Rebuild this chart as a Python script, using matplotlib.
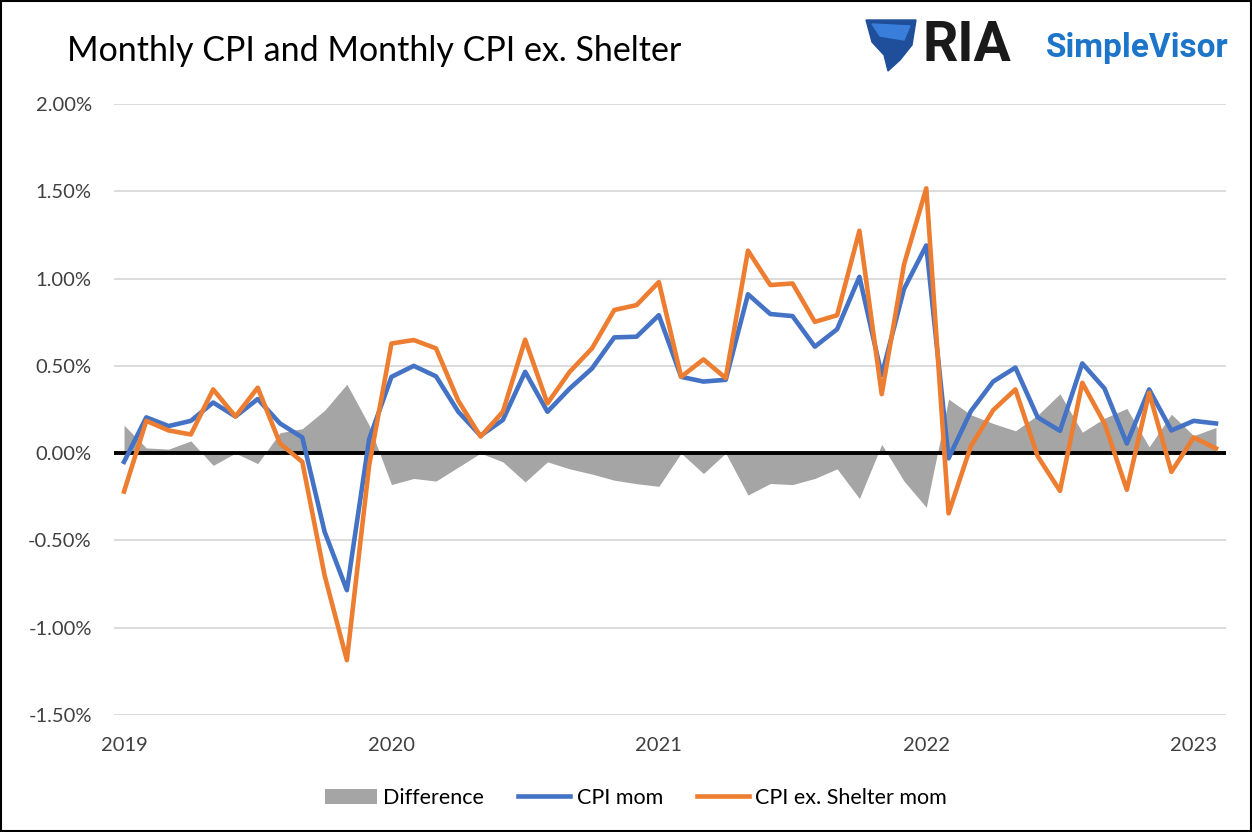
import matplotlib
matplotlib.use("Agg")
import matplotlib.pyplot as plt
import numpy as np
from matplotlib.patches import Rectangle, Polygon
from matplotlib.lines import Line2D
from matplotlib.patches import Patch

# ---- data (monthly, % month-over-month) ----
year_labels = ["2019", "2020", "2021", "2022", "2023"]
cpi_mom = [-0.05, 0.205, 0.155, 0.185, 0.29, 0.21, 0.31, 0.17, 0.09, -0.45,
           -0.785, 0.08, 0.437, 0.50, 0.44, 0.237, 0.10, 0.19, 0.466, 0.237,
           0.37, 0.485, 0.663, 0.667, 0.79, 0.437, 0.41, 0.42, 0.91, 0.797,
           0.785, 0.61, 0.71, 1.01, 0.447, 0.94, 1.19, -0.03, 0.24, 0.41,
           0.49, 0.205, 0.128, 0.514, 0.37, 0.055, 0.365, 0.13, 0.185, 0.17]
cpi_ex_shelter_mom = [-0.22, 0.185, 0.13, 0.107, 0.365, 0.21, 0.375, 0.055, -0.05, -0.70,
                      -1.186, -0.07, 0.628, 0.648, 0.60, 0.30, 0.095, 0.237, 0.65, 0.285,
                      0.466, 0.60, 0.82, 0.848, 0.98, 0.437, 0.537, 0.43, 1.16, 0.963,
                      0.972, 0.752, 0.79, 1.274, 0.338, 1.08, 1.517, -0.345, 0.04, 0.246,
                      0.365, -0.018, -0.216, 0.403, 0.17, -0.21, 0.346, -0.107, 0.09, 0.027]
difference = [0.16, 0.03, 0.023, 0.07, -0.07, 0.0, -0.06, 0.117, 0.14, 0.245,
              0.395, 0.16, -0.18, -0.145, -0.16, -0.08, 0.0, -0.05, -0.165, -0.05,
              -0.09, -0.12, -0.155, -0.175, -0.19, 0.0, -0.117, 0.0, -0.24, -0.174,
              -0.18, -0.145, -0.09, -0.26, 0.05, -0.16, -0.31, 0.31, 0.22, 0.17,
              0.128, 0.218, 0.34, 0.12, 0.2, 0.256, 0.036, 0.223, 0.10, 0.147]

FONT = "Lato"
BLUE = "#4472C4"
ORANGE = "#ED7D31"
GREY = "#A5A5A5"

months = np.arange(len(cpi_mom))

fig = plt.figure(figsize=(12.52, 8.32), dpi=100)
W, H = 1252, 832
ax = fig.add_axes([114 / W, 1 - 715 / H, (1226 - 114) / W, (715 - 104) / H])

ax.fill_between(months, 0, difference, color=GREY, lw=0, zorder=2)
ax.axhline(0, color="black", lw=2.8, zorder=3)
ax.plot(months, cpi_mom, color=BLUE, lw=3.3, zorder=4, solid_joinstyle="round")
ax.plot(months, cpi_ex_shelter_mom, color=ORANGE, lw=3.3, zorder=5, solid_joinstyle="round")

ax.set_xlim(-0.45, 49.45)
ax.set_ylim(-1.5, 2.0)
yt = np.arange(-1.5, 2.01, 0.5)
ax.set_yticks(yt)
ax.set_yticklabels([f"{v:.2f}%" for v in yt], fontsize=14.5, fontfamily=FONT, color="#404040")
ax.set_xticks([0, 12, 24, 36, 48])
ax.set_xticklabels(year_labels, fontsize=14.5, fontfamily=FONT, color="#404040")
ax.tick_params(axis="both", length=0)
ax.tick_params(axis="y", pad=16)
ax.tick_params(axis="x", pad=16)
ax.grid(axis="y", color="#D9D9D9", lw=1.3, zorder=0)
for s in ax.spines.values():
    s.set_visible(False)

# title
fig.text(67 / W, 1 - 51 / H, "Monthly CPI and Monthly CPI ex. Shelter", fontsize=24.5,
         fontfamily=FONT, color="black", va="center", ha="left")

# logo
def fx(px):
    return px / W

def fy(py):
    return 1 - py / H

shield = Polygon([[fx(866), fy(20)], [fx(916), fy(20)], [fx(912), fy(45)], [fx(900), fy(60)],
                  [fx(888), fy(71)], [fx(884), fy(55)], [fx(872), fy(42)]],
                 closed=True, transform=fig.transFigure, color="#1F4E9A", zorder=5)
fig.patches.append(shield)
shield2 = Polygon([[fx(872), fy(24)], [fx(910), fy(26)], [fx(904), fy(40)], [fx(880), fy(36)]],
                  closed=True, transform=fig.transFigure, color="#3A7EDB", zorder=6)
fig.patches.append(shield2)
fig.text(fx(922), fy(46), "RIA", fontsize=40, fontweight="bold", fontfamily="Roboto",
         color="#1a1a1a", va="center", ha="left")
fig.text(fx(1046), fy(48), "SimpleVisor", fontsize=24, fontweight="bold", fontfamily="Roboto",
         color="#1C75C8", va="center", ha="left")

# legend
handles = [Patch(facecolor=GREY, edgecolor="none"),
           Line2D([0], [0], color=BLUE, lw=3.3),
           Line2D([0], [0], color=ORANGE, lw=3.3)]
labels = ["Difference", "CPI mom", "CPI ex. Shelter mom"]
fig.legend(handles, labels, loc="center", bbox_to_anchor=(636 / W, 1 - 798 / H), ncol=3,
           frameon=False, prop={"family": FONT, "size": 15.5}, handlelength=2.42,
           handletextpad=0.28, columnspacing=1.6)

# border
fig.patches.append(Rectangle((0.0008, 0.001), 0.9984, 0.998, transform=fig.transFigure,
                             fill=False, edgecolor="black", lw=1.5))

fig.savefig("out.png", dpi=100)
